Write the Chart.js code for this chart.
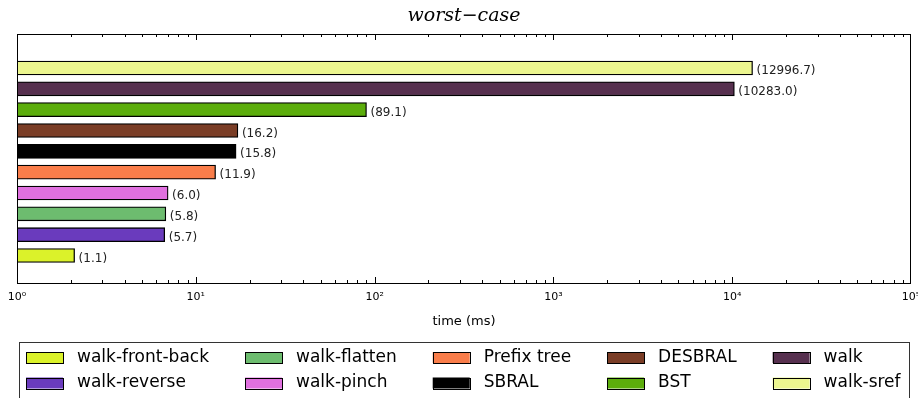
<!DOCTYPE html>
<html>
<head>
<meta charset="utf-8">
<script src="https://cdn.jsdelivr.net/npm/chart.js@4"></script>
<style>
  html, body { margin: 0; padding: 0; background: #fff; }
  canvas { display: block; }
</style>
</head>
<body>
<canvas id="chart" width="918" height="398"></canvas>
<script>
// methods from bottom to top of the plot (also the legend order, column by column)
const methods = ['walk-front-back', 'walk-reverse', 'walk-flatten', 'walk-pinch', 'Prefix tree',
                 'SBRAL', 'DESBRAL', 'BST', 'walk', 'walk-sref'];
// worst-case time in ms, as printed next to each bar
const times = [1.1, 5.7, 5.8, 6.0, 11.9, 15.8, 16.2, 89.1, 10283.0, 12996.7];
const colors = ['#dbf22a', '#6a3bbd', '#6dbc6f', '#e070df', '#f97d4a',
                '#000000', '#7a3d26', '#5cad0c', '#57304f', '#ecf68f'];
const majorTicks = [1, 10, 100, 1000, 10000, 100000];
const tickLabels = ['10\u2070', '10\u00b9', '10\u00b2', '10\u00b3', '10\u2074', '10\u2075'];

const titleText = 'worst\u2212case';
const xTitle = 'time (ms)';

// the original plots log(1 + t), bars start at 10^0
const barData = methods.map((m, i) => ({ x: [1, times[i] + 1], y: i }));

const framePlugin = {
  id: 'frame',
  afterDatasetsDraw(chart) {
    const ctx = chart.ctx;
    const a = chart.chartArea;
    const xs = chart.scales.x;

    // value labels
    ctx.save();
    ctx.font = '12px "DejaVu Sans"';
    ctx.fillStyle = '#222';
    ctx.textBaseline = 'middle';
    chart.getDatasetMeta(0).data.forEach((bar, i) => {
      ctx.fillText('(' + times[i].toFixed(1) + ')', bar.x + 4, bar.y + 3);
    });
    ctx.restore();

    // axes frame
    ctx.save();
    ctx.strokeStyle = '#000';
    ctx.lineWidth = 1;
    ctx.strokeRect(Math.round(a.left) + 0.5, Math.round(a.top) + 0.5,
                   Math.round(a.right - a.left) - 1, Math.round(a.bottom - a.top));

    // inward ticks top and bottom
    ctx.beginPath();
    for (let d = 0; d < 5; d++) {
      for (let k = 1; k <= 9; k++) {
        const v = k * Math.pow(10, d);
        const px = Math.round(xs.getPixelForValue(v)) + 0.5;
        const len = k === 1 ? 6 : 3;
        ctx.moveTo(px, a.bottom); ctx.lineTo(px, a.bottom - len);
        ctx.moveTo(px, a.top); ctx.lineTo(px, a.top + len);
      }
    }
    ctx.stroke();
    ctx.restore();
  },
  afterDraw(chart) {
    const ctx = chart.ctx;
    const a = chart.chartArea;
    const cx = (a.left + a.right) / 2;

    ctx.save();
    ctx.fillStyle = '#000';
    ctx.textAlign = 'center';
    ctx.textBaseline = 'middle';
    ctx.font = 'italic 19px "DejaVu Serif"';
    ctx.fillText(titleText, cx, 16);
    ctx.font = '13px "DejaVu Sans"';
    ctx.fillText(xTitle, cx, 322);
    ctx.restore();

    // legend box, 5 columns x 2 rows, filled column by column
    ctx.save();
    ctx.font = '17px "DejaVu Sans"';
    ctx.textBaseline = 'middle';
    ctx.strokeStyle = '#333';
    ctx.lineWidth = 1;
    ctx.strokeRect(19.5, 342.5, 890, 80);
    const rowY = [357.5, 383];
    const swW = 37, swH = 11, gap = 14, colGap = 36;
    let x = 26;
    for (let c = 0; c < 5; c++) {
      let maxW = 0;
      for (let r = 0; r < 2; r++) {
        const i = c * 2 + r;
        const y = rowY[r];
        ctx.fillStyle = colors[i];
        ctx.fillRect(x, y - swH / 2, swW, swH);
        ctx.strokeStyle = '#000';
        ctx.strokeRect(Math.round(x) + 0.5, Math.round(y - swH / 2) + 0.5, swW, swH);
        ctx.fillStyle = '#000';
        ctx.fillText(methods[i], x + swW + gap, y);
        maxW = Math.max(maxW, ctx.measureText(methods[i]).width);
      }
      x += swW + gap + maxW + colGap;
    }
    ctx.restore();
  }
};

new Chart(document.getElementById('chart'), {
  type: 'bar',
  data: {
    datasets: [{
      data: barData,
      backgroundColor: colors,
      borderColor: '#000',
      borderWidth: 1.3,
      borderSkipped: false,
      barThickness: 14
    }]
  },
  options: {
    indexAxis: 'y',
    responsive: false,
    animation: false,
    layout: { padding: { top: 34, left: 17, right: 7, bottom: 0 } },
    plugins: { legend: { display: false }, tooltip: { enabled: false } },
    scales: {
      x: {
        type: 'logarithmic',
        min: 1,
        max: 100000,
        grid: { display: false, drawTicks: false },
        border: { display: false },
        afterBuildTicks(scale) {
          scale.ticks = majorTicks.map(v => ({ value: v, major: true }));
        },
        afterFit(scale) {
          scale.height = 115;
          scale.paddingLeft = 0;
          scale.paddingRight = 0;
        },
        ticks: {
          autoSkip: false,
          maxRotation: 0,
          padding: 8,
          color: '#000',
          font: { family: 'DejaVu Sans', size: 11 },
          callback(v) {
            const i = majorTicks.indexOf(v);
            return i >= 0 ? tickLabels[i] : '';
          }
        }
      },
      y: {
        type: 'linear',
        display: false,
        offset: false,
        min: -1.32,
        max: 10.63
      }
    }
  },
  plugins: [framePlugin]
});
</script>
</body>
</html>
